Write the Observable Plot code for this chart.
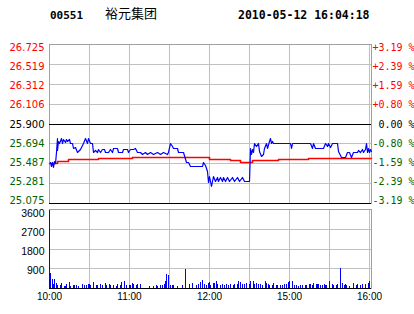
<!DOCTYPE html>
<html>
<head>
<meta charset="utf-8">
<script src="https://cdn.jsdelivr.net/npm/d3@7"></script>
<script src="https://cdn.jsdelivr.net/npm/@observablehq/plot@0.6"></script>
<style>
  html, body { margin: 0; padding: 0; background: #fff; }
  #wrap { position: relative; width: 414px; height: 314px; overflow: hidden; background: #fff; }
  .hdr { position: absolute; top: 6px; white-space: pre; color: #000; }
  #code { left: 50px; font: bold 11px "DejaVu Sans Mono", monospace; top: 9px; }
  #name { left: 105px; font: 13px "Noto Sans CJK SC", sans-serif; top: 3px; }
  #time { left: 238px; font: bold 11.5px "DejaVu Sans Mono", monospace; top: 8px; }
  #price, #vol { position: absolute; left: 0; }
  #price { top: 0; }
  #vol { top: 200px; }
</style>
</head>
<body>
<div id="wrap">
  <div class="hdr" id="code"></div>
  <div class="hdr" id="name"></div>
  <div class="hdr" id="time"></div>
  <div id="price"></div>
  <div id="vol"></div>
</div>
<script>
// ---- header ----
const stockCode = "00551";
const stockName = "裕元集团";
const stamp = "2010-05-12 16:04:18";

// ---- axes ----
const prevClose = 25.900;
const priceTicks = [26.725, 26.519, 26.312, 26.106, 25.900, 25.694, 25.487, 25.281, 25.075];
const pctLabels = ["+3.19\u00a0%", "+2.39\u00a0%", "+1.59\u00a0%", "+0.80\u00a0%", "\u00a00.00\u00a0%", "-0.80\u00a0%", "-1.59\u00a0%", "-2.39\u00a0%", "-3.19\u00a0%"];
const gridMinutes = [0, 30, 60, 90, 120, 150, 180, 210, 240];
const timeTickMinutes = [0, 60, 120, 180, 240];
const timeTickLabels = ["10:00", "11:00", "12:00", "15:00", "16:00"];
const volTicks = [900, 1800, 2700, 3600];

// ---- price series (minute index from 10:00, trading minutes) ----
const priceMinutes = [0.8,1.5,2.3,3.2,4,4.7,5.3,5.8,6.2,7,7.7,8.8,9.8,10.7,11.8,12.8,13.7,14.8,15.8,17,18.2,19.5,20.8,23.3,25.7,27,28.3,29.5,30.8,32,32.8,34.5,35.8,37,38.3,39.5,41.3,42.2,44.5,45.8,47,48.2,50.8,51.5,54.5,55.7,58.3,59.5,60.8,63.2,64.5,65.8,68.3,69.5,72,73.3,75.8,78.2,80.8,83.3,85.7,88.3,89.5,90.8,92,93.2,95.8,97,99.5,100.7,102.5,104.5,105.8,114.5,115.7,117,118.3,119.5,120.2,121.3,122.8,124.5,125.8,127,128.3,129.5,130.7,132,133.3,135.2,137,138.8,140.8,142.7,144.5,146.3,150.2,150.8,151.5,152.3,153.2,154,155.3,156.5,157.7,158.8,160.3,161.5,162.8,163.7,164.8,165.5,166.3,167.3,168.2,180.8,181.5,182.5,195.8,197,198.2,199.5,205.7,207,208.3,209.5,210.8,212,215.8,217,218.8,222,223.3,225.2,226.3,227.8,230.8,232,233.3,234.5,235.7,236.8,237.5,238.3,239,240,240.8,241.5];
const prices = [25.50,25.46,25.50,25.45,25.51,25.49,25.60,25.75,25.63,25.72,25.70,25.75,25.70,25.74,25.71,25.74,25.72,25.74,25.70,25.70,25.65,25.66,25.60,25.64,25.70,25.75,25.70,25.75,25.70,25.70,25.60,25.63,25.60,25.64,25.60,25.64,25.64,25.60,25.60,25.64,25.60,25.65,25.65,25.60,25.60,25.64,25.64,25.60,25.64,25.64,25.65,25.60,25.60,25.58,25.60,25.58,25.60,25.58,25.60,25.58,25.60,25.58,25.60,25.70,25.67,25.65,25.65,25.60,25.60,25.60,25.50,25.50,25.46,25.46,25.50,25.47,25.41,25.29,25.36,25.25,25.36,25.30,25.34,25.30,25.34,25.30,25.34,25.30,25.34,25.30,25.34,25.30,25.34,25.30,25.34,25.30,25.30,25.65,25.58,25.64,25.60,25.70,25.67,25.70,25.61,25.56,25.58,25.65,25.70,25.65,25.72,25.75,25.70,25.72,25.70,25.70,25.65,25.70,25.70,25.65,25.70,25.65,25.65,25.70,25.67,25.70,25.66,25.70,25.70,25.61,25.55,25.55,25.60,25.60,25.55,25.60,25.60,25.62,25.60,25.64,25.60,25.64,25.70,25.60,25.65,25.60,25.64,25.61];

// ---- average price (step) ----
const avgMinutes = [0, 6, 14, 26, 37, 62, 120, 136, 143, 152, 172, 194, 214, 241.5];
const avgPrices = [25.49, 25.51, 25.53, 25.536, 25.546, 25.553, 25.53, 25.52, 25.505, 25.52, 25.53, 25.537, 25.546, 25.546];

// ---- volume ----
const volMinutes = [0,1,2,3,4,5,6,8,9,11,12,13,15,16,18,19,20,22,25,26,28,29,30,31,33,35,36,38,40,42,43,45,46,48,50,51,53,54,56,58,60,61,62,63,65,66,68,75,78,80,81,83,85,86,87,88,89,91,92,93,96,100,102,105,107,110,112,113,115,116,118,119,120,121,123,124,125,126,128,130,131,133,134,136,138,139,141,142,143,145,146,148,150,151,153,154,155,157,158,160,162,163,164,165,167,168,170,171,173,175,176,178,179,180,182,184,185,187,188,190,192,193,195,196,197,198,200,201,202,203,205,206,207,208,210,212,213,215,216,218,220,221,222,223,225,228,230,231,233,235,237,239,240];
const volumes = [3550,700,430,200,430,250,120,150,230,100,100,180,260,100,130,130,130,80,180,120,130,200,160,150,260,120,130,200,130,250,150,200,130,150,80,180,140,260,300,140,150,150,210,200,150,160,180,100,110,130,100,120,150,200,330,620,600,130,150,120,80,130,880,200,240,140,200,260,370,200,150,250,270,150,230,240,300,200,150,180,130,200,150,180,130,160,200,330,270,200,170,230,180,330,310,200,250,160,200,150,300,240,180,150,140,220,130,150,120,130,160,180,280,300,330,150,140,110,130,150,130,140,170,180,150,220,170,200,200,150,140,200,130,120,300,180,120,150,200,900,230,150,200,120,100,250,150,200,150,200,180,220,330];

document.getElementById("code").textContent = stockCode;
document.getElementById("name").textContent = stockName;
document.getElementById("time").textContent = stamp;

const GRID = "#c0c0c0";
const FRAME = "#a0a0a0";
const RED = "#ff0000";
const GREEN = "#006400";
const BLUE = "#0000ff";
const xDomain = [0, 241.5];

const priceData = priceMinutes.map((m, i) => ({m, p: prices[i]}));
const avgData = avgMinutes.map((m, i) => ({m, p: avgPrices[i]}));
const volData = volMinutes.map((m, i) => ({m, v: volumes[i]}));
const tickColor = d => Math.abs(d - prevClose) < 1e-9 ? "#000" : (d > prevClose ? RED : GREEN);
// tick labels sit slightly closer to the centre line than the gridlines
const labelPos = d => prevClose + (d - prevClose) * 0.96;
const volLabelPos = d => d * 0.957;

const pricePlot = Plot.plot({
  width: 414, height: 210,
  marginTop: 44, marginBottom: 7, marginLeft: 49, marginRight: 43,
  x: {domain: xDomain, axis: null, round: true},
  y: {domain: [25.075, 26.725], axis: null, round: true},
  style: {background: "transparent", overflow: "visible"},
  marks: [
    Plot.ruleX(gridMinutes, {stroke: GRID}),
    Plot.ruleY(priceTicks, {stroke: GRID}),
    Plot.frame({stroke: FRAME}),
    Plot.ruleY([prevClose, priceTicks[priceTicks.length - 1]], {stroke: "#000"}),
    Plot.line(avgData, {x: "m", y: "p", curve: "step-after", stroke: RED, strokeWidth: 1.6}),
    Plot.line(priceData, {x: "m", y: "p", stroke: BLUE, strokeWidth: 1.2}),
    Plot.text(priceTicks, {y: labelPos, frameAnchor: "left", dx: -5, dy: 0.5, textAnchor: "end",
      text: d => d.toFixed(3), fill: tickColor, fontSize: 10, fontFamily: "DejaVu Sans"}),
    Plot.text(priceTicks, {y: labelPos, frameAnchor: "right", dx: 1, dy: 0.5, textAnchor: "start",
      text: (d, i) => pctLabels[i], fill: tickColor, fontSize: 10, fontFamily: "DejaVu Sans Mono"})
  ]
});
document.getElementById("price").appendChild(pricePlot);

const volPlot = Plot.plot({
  width: 414, height: 114,
  marginTop: 9, marginBottom: 26, marginLeft: 49, marginRight: 43,
  x: {domain: xDomain, axis: null, round: true},
  y: {domain: [0, 3600], axis: null, round: true},
  style: {background: "transparent", overflow: "visible"},
  marks: [
    Plot.ruleX(gridMinutes, {stroke: GRID}),
    Plot.ruleY(volTicks, {stroke: GRID}),
    Plot.frame({stroke: FRAME}),
    Plot.ruleX(volData, {x: "m", y1: 0, y2: "v", stroke: BLUE, strokeWidth: 1}),
    Plot.ruleY([0], {stroke: "#000"}),
    Plot.text(volTicks, {y: volLabelPos, frameAnchor: "left", dx: -5, dy: 1, textAnchor: "end",
      text: d => String(d), fill: "#000", fontSize: 10.5, fontFamily: "Liberation Sans"}),
    Plot.text(timeTickMinutes, {x: d => d, frameAnchor: "bottom", dy: 11, textAnchor: "middle",
      text: (d, i) => timeTickLabels[i], fill: "#000", fontSize: 10, fontFamily: "Liberation Sans"})
  ]
});
document.getElementById("vol").appendChild(volPlot);
</script>
</body>
</html>
